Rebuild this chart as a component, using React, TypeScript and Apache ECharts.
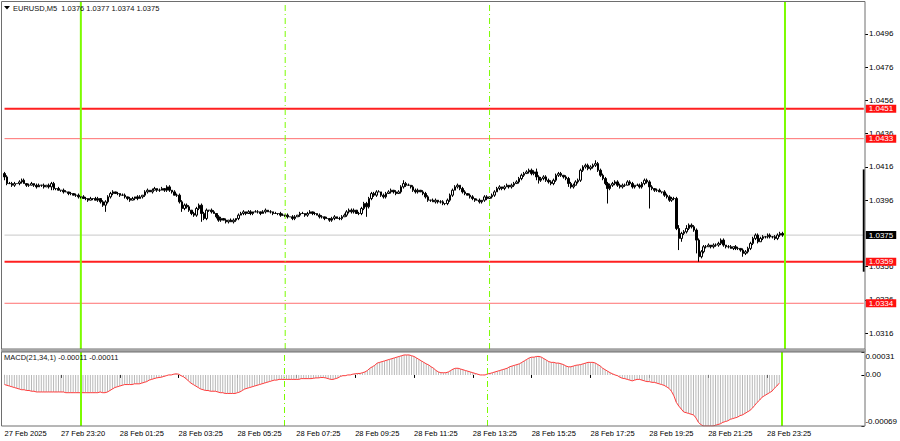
import React, { useEffect, useRef } from "react";
import * as echarts from "echarts";

// ---------- data (prices in pips above 1.0300; MACD in points of 0.00001) ----------
const symbolName = "EURUSD,M5";
const pipBase = 1.03;
const firstOpen = 112;
const closes = [
  110, 106, 106, 105, 106, 106, 107, 108, 106, 105,
  105, 106, 105, 104, 105, 105, 104, 105, 104, 106,
  103, 103, 102, 102, 101, 101, 100, 100, 99, 99,
  98, 98, 97, 97, 96, 97, 97, 96, 97, 95,
  93, 95, 98, 100, 101, 100, 100, 99, 99, 98,
  97, 96, 97, 98, 97, 98, 99, 101, 102, 101,
  102, 103, 102, 102, 103, 102, 104, 102, 101, 99,
  99, 95, 91, 93, 92, 90, 88, 87, 91, 93,
  88, 85, 90, 90, 89, 88, 86, 84, 85, 84,
  83, 84, 83, 84, 85, 87, 88, 89, 88, 89,
  88, 89, 89, 89, 88, 89, 90, 89, 89, 88,
  88, 88, 87, 87, 87, 86, 86, 85, 86, 87,
  88, 88, 87, 88, 89, 88, 88, 87, 86, 86,
  85, 85, 84, 85, 86, 85, 85, 86, 87, 89,
  90, 89, 90, 88, 88, 91, 94, 92, 97, 100,
  99, 101, 101, 99, 98, 100, 101, 102, 101, 100,
  101, 104, 106, 105, 105, 104, 102, 101, 102, 101,
  100, 98, 96, 96, 95, 96, 95, 95, 94, 94,
  96, 99, 102, 104, 105, 103, 101, 100, 99, 98,
  97, 96, 96, 95, 96, 98, 97, 98, 99, 101,
  103, 104, 103, 104, 105, 104, 105, 106, 107, 109,
  111, 112, 113, 114, 112, 113, 110, 108, 109, 110,
  108, 107, 106, 108, 111, 112, 111, 110, 109, 106,
  104, 105, 107, 108, 114, 116, 117, 115, 116, 117,
  118, 114, 111, 109, 106, 103, 105, 106, 107, 105,
  104, 105, 105, 107, 106, 104, 105, 105, 104, 106,
  108, 107, 104, 103, 102, 102, 101, 101, 99, 98,
  96, 97, 97, 79, 73, 76, 77, 79, 81, 80,
  78, 72, 62, 65, 68, 68, 69, 68, 69, 69,
  70, 72, 69, 68, 68, 67, 68, 67, 67, 66,
  64, 65, 67, 70, 73, 75, 71, 73, 74, 74,
  75, 74, 74, 73, 75, 76, 75,
];
const wickUp = [
  1, 1, 1, 1, 1, 0, 1, 1, 1, 0,
  1, 1, 0, 1, 1, 0, 1, 0, 1, 1,
  1, 0, 1, 0, 1, 1, 0, 1, 0, 1,
  1, 0, 1, 1, 0, 1, 0, 1, 1, 0,
  1, 1, 1, 1, 1, 0, 1, 0, 1, 1,
  0, 1, 1, 0, 1, 1, 0, 1, 1, 0,
  1, 1, 0, 1, 1, 0, 1, 1, 0, 1,
  1, 1, 1, 1, 1, 1, 0, 1, 1, 1,
  1, 1, 1, 0, 1, 1, 0, 1, 1, 0,
  1, 0, 1, 1, 0, 1, 1, 1, 0, 1,
  1, 0, 1, 1, 0, 1, 1, 0, 1, 0,
  1, 0, 1, 1, 0, 1, 0, 1, 1, 0,
  1, 1, 0, 1, 1, 0, 1, 0, 1, 1,
  0, 1, 0, 1, 1, 0, 1, 1, 1, 1,
  1, 1, 1, 0, 1, 1, 1, 1, 1, 1,
  1, 1, 1, 0, 1, 1, 1, 1, 0, 1,
  1, 1, 2, 1, 1, 0, 1, 1, 1, 0,
  1, 1, 1, 0, 1, 1, 0, 1, 1, 0,
  1, 1, 1, 1, 1, 0, 1, 1, 0, 1,
  1, 0, 1, 1, 0, 1, 1, 0, 1, 1,
  1, 1, 0, 1, 1, 0, 1, 1, 1, 1,
  1, 1, 1, 1, 1, 1, 2, 1, 1, 1,
  1, 1, 1, 1, 1, 1, 1, 0, 1, 1,
  1, 1, 1, 1, 1, 1, 1, 1, 1, 1,
  2, 1, 1, 1, 1, 1, 1, 1, 1, 1,
  1, 1, 1, 1, 1, 1, 0, 1, 1, 1,
  1, 1, 1, 1, 0, 1, 1, 0, 1, 1,
  1, 1, 1, 1, 2, 1, 1, 2, 1, 1,
  1, 1, 1, 1, 1, 1, 1, 0, 1, 1,
  1, 1, 1, 0, 1, 1, 0, 1, 1, 0,
  1, 1, 1, 1, 1, 1, 1, 1, 1, 0,
  1, 1, 0, 1, 1, 1, 1,
];
const wickDn = [
  2, 1, 0, 1, 1, 0, 1, 1, 0, 1,
  1, 0, 1, 1, 0, 1, 1, 0, 1, 2,
  1, 1, 0, 1, 1, 0, 1, 1, 0, 1,
  1, 1, 0, 1, 1, 0, 1, 0, 1, 1,
  1, 4, 1, 1, 1, 0, 1, 1, 0, 1,
  1, 1, 0, 1, 1, 0, 1, 1, 1, 0,
  1, 0, 1, 1, 0, 1, 1, 1, 1, 0,
  1, 1, 2, 1, 1, 1, 1, 1, 1, 1,
  5, 1, 1, 1, 1, 0, 1, 1, 1, 0,
  1, 1, 0, 1, 1, 1, 0, 1, 1, 0,
  1, 1, 0, 1, 1, 0, 1, 0, 1, 1,
  0, 1, 1, 0, 1, 1, 0, 1, 1, 0,
  1, 0, 1, 1, 0, 1, 1, 0, 1, 1,
  1, 0, 1, 1, 1, 0, 1, 1, 0, 1,
  1, 1, 1, 0, 1, 1, 1, 6, 1, 1,
  1, 1, 0, 1, 1, 1, 0, 1, 1, 1,
  0, 1, 1, 1, 0, 1, 1, 1, 1, 0,
  1, 1, 1, 1, 0, 1, 1, 1, 1, 1,
  1, 1, 1, 0, 1, 1, 1, 1, 0, 1,
  1, 1, 0, 1, 1, 1, 1, 0, 1, 1,
  0, 1, 1, 1, 0, 1, 1, 1, 0, 1,
  1, 1, 0, 1, 1, 1, 2, 2, 1, 1,
  1, 1, 1, 1, 1, 1, 1, 1, 1, 2,
  1, 1, 0, 1, 1, 1, 1, 1, 1, 1,
  1, 1, 1, 1, 1, 9, 1, 1, 1, 1,
  1, 1, 1, 0, 1, 1, 1, 0, 1, 1,
  1, 1, 13, 1, 1, 1, 0, 1, 1, 1,
  1, 1, 1, 1, 7, 2, 1, 1, 1, 1,
  1, 8, 3, 1, 1, 1, 0, 1, 1, 1,
  1, 1, 1, 1, 1, 0, 1, 1, 1, 1,
  2, 1, 1, 1, 1, 1, 1, 0, 1, 1,
  1, 1, 1, 1, 1, 1, 1,
];
const macdPts = [
  -13, -14, -15, -16, -17, -18, -19, -20, -20, -21,
  -21, -22, -22, -23, -23, -23, -23, -23, -23, -23,
  -23, -23, -23, -23, -23, -24, -24, -24, -24, -24,
  -24, -24, -24, -24, -24, -24, -24, -24, -24, -23,
  -24, -24, -23, -21, -19, -17, -16, -15, -14, -13,
  -13, -13, -13, -12, -12, -12, -11, -10, -9, -7,
  -6, -5, -4, -3.5, -3, -2, -1, 0, 0, 1,
  1.5, 1, -1, -2.5, -5, -8, -11, -13, -15, -17,
  -19, -20, -21, -21, -22, -22, -22, -23, -24, -24,
  -25, -25, -25, -25, -25, -24, -23, -21, -19, -18,
  -17, -16, -15, -14, -13, -12, -11, -10, -9, -8,
  -7, -7, -6, -6, -6, -6, -6, -6, -6, -6,
  -6, -5, -5, -5, -5, -5, -4.5, -4, -4, -3.5,
  -3.5, -4, -5, -6, -6, -5, -4, -2, -1, -1,
  0, 0, 1, 1.5, 2, 2, 3, 4, 6, 9,
  11, 13, 16, 17, 18, 19, 20, 21, 22, 23,
  24, 25, 26, 27, 27, 27, 26, 25, 23, 21,
  19, 17, 15, 13.5, 11, 9, 6, 4, 3, 3,
  3, 4, 6, 8, 9, 9, 8, 7, 6, 5,
  4, 3, 2, 1, 0, 0, 0, 1.5, 2, 3,
  4, 5, 6, 7, 8, 9, 11, 12, 13, 14,
  15, 17, 19, 21, 23, 24, 24, 25, 25, 24,
  22, 20, 18, 17, 17, 16, 16, 15, 14, 12,
  11, 11, 12, 13, 13.5, 14, 15, 16, 17, 17,
  17, 16, 14, 12, 9, 7, 5, 3, 1.5, 0,
  -1, -3, -4.5, -5, -6, -7, -8, -7, -6, -6,
  -7, -8, -9, -9, -10, -10, -11, -12, -13, -14,
  -16, -18, -22, -28, -37, -42, -46, -50, -51, -52,
  -53, -54, -58, -64, -67, -69, -69, -69, -69, -69,
  -68, -67, -66, -64, -63, -62, -60, -59, -58, -57,
  -55, -54, -52, -50, -48, -45, -41, -37, -34, -30,
  -28, -26, -24, -22, -18, -15, -11,
];
// price-scale tick labels (1.0376 sits fully under the bid-price box, as in the reference)
const priceTicks = [1.0316, 1.0336, 1.0356, 1.0396, 1.0416, 1.0436, 1.0456, 1.0476, 1.0496];
const priceMin = 1.03065;
const priceMax = 1.05152;
const macdTicks = [-0.00069, 0, 0.00031];
const macdMin = -0.00069;
const macdMax = 0.00031;
const majorLevels = [1.0451, 1.0359];
const minorLevels = [1.0433, 1.0334];
const bidPrice = 1.0375;
const daySeparatorIdx = [31, 317];
const sessionIdx = [114, 197];
const rangeBar = [1.04145, 1.0353];
const timeTickIdx = [0, 23, 47, 71, 95, 119, 143, 167, 191, 215, 239, 263, 287, 311];
const timeTickLabels = [
  "27 Feb 2025", "27 Feb 23:20", "28 Feb 01:25", "28 Feb 03:25", "28 Feb 05:25",
  "28 Feb 07:25", "28 Feb 09:25", "28 Feb 11:25", "28 Feb 13:25", "28 Feb 15:25",
  "28 Feb 17:25", "28 Feb 19:25", "28 Feb 21:25", "28 Feb 23:25",
];
const totalSlots = 350;

const FONT = "'Liberation Sans', Arial, sans-serif";
const GREEN = "#7cfc00";
const DASHDOT = [6, 3, 1, 3];

function px(p: number) {
  return +(pipBase + p / 10000).toFixed(5);
}

export default function App() {
  const ref = useRef<HTMLDivElement>(null);

  useEffect(() => {
    if (!ref.current) return;
    const chart = echarts.init(ref.current, undefined, { renderer: "svg" });

    const cats = Array.from({ length: totalSlots }, (_, i) => String(i));
    const candles: any[] = [];
    const macd: any[] = [];
    for (let i = 0; i < totalSlots; i++) {
      if (i < closes.length) {
        const o = i === 0 ? firstOpen : closes[i - 1];
        const c = closes[i];
        const hi = Math.max(o, c) + wickUp[i];
        const lo = Math.min(o, c) - wickDn[i];
        candles.push([px(o), px(c), px(lo), px(hi)]);
      } else candles.push("-");
      macd.push(i < macdPts.length ? +(macdPts[i] / 100000).toFixed(6) : "-");
    }
    const last = candles[closes.length - 1];
    const lastMacd = macdPts[macdPts.length - 1] / 100000;
    const tickMap: Record<number, string> = {};
    timeTickIdx.forEach((k, j) => (tickMap[k] = timeTickLabels[j]));
    const showTick = (idx: number) => tickMap[idx] !== undefined;
    const lastSlot = totalSlots - 1;

    const levelSeries = (v: number, color: string, width: number, boxBg: string, z: number) => ({
      type: "line",
      xAxisIndex: 0,
      yAxisIndex: 0,
      data: [
        [0, v],
        [lastSlot, v],
      ],
      symbol: "none",
      silent: true,
      z,
      lineStyle: { color, width, type: "solid" },
      endLabel: {
        show: true,
        formatter: () => v.toFixed(4),
        backgroundColor: boxBg,
        color: "#fff",
        fontSize: 8,
        lineHeight: 8,
        fontFamily: FONT,
        padding: [0, 3, 0, 3],
        distance: 2,
      },
    });

    // vertical separators in the price window, spanning its full value range
    const mainVLine = (x: number, width: number, type: any) => ({
      type: "line",
      xAxisIndex: 0,
      yAxisIndex: 0,
      data: [
        [x, priceMin],
        [x, priceMax],
      ],
      symbol: "none",
      silent: true,
      z: 2,
      lineStyle: { color: GREEN, width, type },
    });

    const macdVLines = [
      ...daySeparatorIdx.map((x) => ({
        xAxis: x,
        lineStyle: { color: GREEN, width: 2, type: "solid" },
        label: { show: false },
      })),
      ...sessionIdx.map((x) => ({
        xAxis: x,
        lineStyle: { color: GREEN, width: 1, type: DASHDOT },
        label: { show: false },
      })),
    ];

    const option: any = {
      animation: false,
      backgroundColor: "#ffffff",
      textStyle: { fontFamily: FONT },
      title: [
        {
          text: `${symbolName}  ${last[0].toFixed(4)} ${last[3].toFixed(4)} ${last[2].toFixed(4)} ${last[1].toFixed(4)}`,
          left: 13,
          top: 4,
          padding: 0,
          textStyle: { fontSize: 7.5, fontWeight: "normal", color: "#111", fontFamily: FONT },
        },
        {
          text: `MACD(21,34,1) ${lastMacd.toFixed(5)} ${lastMacd.toFixed(5)}`,
          left: 4,
          top: 353,
          padding: 0,
          textStyle: { fontSize: 7.5, fontWeight: "normal", color: "#111", fontFamily: FONT },
        },
      ],
      grid: [
        { left: 3.3, right: 35, top: 2, height: 347 },
        { left: 3.3, right: 35, top: 352, height: 74 },
      ],
      xAxis: [
        {
          type: "category",
          gridIndex: 0,
          data: cats,
          boundaryGap: true,
          axisLine: { show: false },
          axisTick: { show: false },
          axisLabel: { show: false },
          splitLine: { show: false },
        },
        {
          type: "category",
          gridIndex: 1,
          data: cats,
          boundaryGap: true,
          axisLine: { show: false },
          axisTick: {
            show: true,
            alignWithLabel: true,
            interval: (idx: number) => showTick(idx),
            length: 3,
            lineStyle: { color: "#000" },
          },
          axisLabel: {
            interval: (idx: number) => showTick(idx),
            formatter: (_v: string, idx: number) => tickMap[idx] ?? "",
            align: "left",
            fontSize: 7.5,
            color: "#000",
            margin: 3,
            fontFamily: FONT,
          },
          splitLine: { show: false },
        },
      ],
      yAxis: [
        {
          type: "value",
          gridIndex: 0,
          position: "right",
          min: priceMin,
          max: priceMax,
          axisLine: { show: false },
          axisTick: { show: true, customValues: priceTicks, length: 3, lineStyle: { color: "#000" } },
          axisLabel: {
            customValues: priceTicks,
            formatter: (v: number) => v.toFixed(4),
            fontSize: 8,
            lineHeight: 8,
            color: "#000",
            margin: 4,
            fontFamily: FONT,
          },
          splitLine: { show: false },
        },
        {
          type: "value",
          gridIndex: 1,
          position: "right",
          min: macdMin,
          max: macdMax,
          axisLine: { show: false },
          axisTick: { show: true, customValues: macdTicks, length: 3, lineStyle: { color: "#000" } },
          axisLabel: {
            customValues: macdTicks,
            formatter: (v: number) => {
              if (Math.abs(v) < 1e-9) return "0.00";
              const s = v.toFixed(5);
              return v > 0 ? `{top|${s}}` : `{bot|${s}}`;
            },
            rich: {
              top: { padding: [9, 0, 0, 0], fontSize: 8, color: "#000", fontFamily: FONT },
              bot: { padding: [0, 0, 9, 0], fontSize: 8, color: "#000", fontFamily: FONT },
            },
            fontSize: 8,
            color: "#000",
            margin: 4,
            fontFamily: FONT,
          },
          splitLine: { show: false },
        },
      ],
      series: [
        levelSeries(bidPrice, "#c8c8c8", 1, "#000000", 1),
        ...minorLevels.map((v) => levelSeries(v, "#ff7070", 1, "#ff1010", 2)),
        ...majorLevels.map((v) => levelSeries(v, "#ff2020", 2, "#ff1010", 2)),
        ...daySeparatorIdx.map((x) => mainVLine(x, 2, "solid")),
        ...sessionIdx.map((x) => mainVLine(x, 1, DASHDOT)),
        {
          type: "line",
          xAxisIndex: 0,
          yAxisIndex: 0,
          data: [
            [lastSlot, rangeBar[0]],
            [lastSlot, rangeBar[1]],
          ],
          symbol: "none",
          silent: true,
          z: 2,
          lineStyle: { color: "#000", width: 2 },
        },
        {
          type: "candlestick",
          xAxisIndex: 0,
          yAxisIndex: 0,
          data: candles,
          barWidth: 2,
          z: 3,
          itemStyle: {
            color: "#ffffff",
            color0: "#000000",
            borderColor: "#000000",
            borderColor0: "#000000",
            borderWidth: 1,
          },
        },
        {
          type: "bar",
          xAxisIndex: 1,
          yAxisIndex: 1,
          data: macd,
          barWidth: 1,
          itemStyle: { color: "#b8b8b8" },
          markLine: {
            silent: true,
            symbol: ["none", "none"],
            animation: false,
            data: macdVLines,
          },
        },
        {
          type: "line",
          xAxisIndex: 1,
          yAxisIndex: 1,
          data: macd,
          showSymbol: false,
          symbol: "none",
          lineStyle: { color: "#ff3b3b", width: 1 },
        },
      ],
      graphic: [
        {
          type: "rect",
          shape: { x: 1.5, y: 1.5, width: 863.5, height: 347.5 },
          style: { fill: "none", stroke: "#6e6e6e", lineWidth: 1 },
          silent: true,
          z: 100,
        },
        {
          type: "rect",
          shape: { x: 1, y: 349, width: 865, height: 3 },
          style: { fill: "#a4a4a4" },
          silent: true,
          z: 100,
        },
        {
          type: "rect",
          shape: { x: 1.5, y: 352, width: 863.5, height: 74 },
          style: { fill: "none", stroke: "#6e6e6e", lineWidth: 1 },
          silent: true,
          z: 100,
        },
        {
          type: "polygon",
          shape: { points: [[4, 6], [10, 6], [7, 9.5]] },
          style: { fill: "#000" },
          silent: true,
        },
      ],
    };

    chart.setOption(option);
    return () => chart.dispose();
  }, []);

  return (
    <div
      ref={ref}
      style={{ position: "fixed", left: 0, top: 0, width: 900, height: 441, background: "#fff" }}
    />
  );
}
